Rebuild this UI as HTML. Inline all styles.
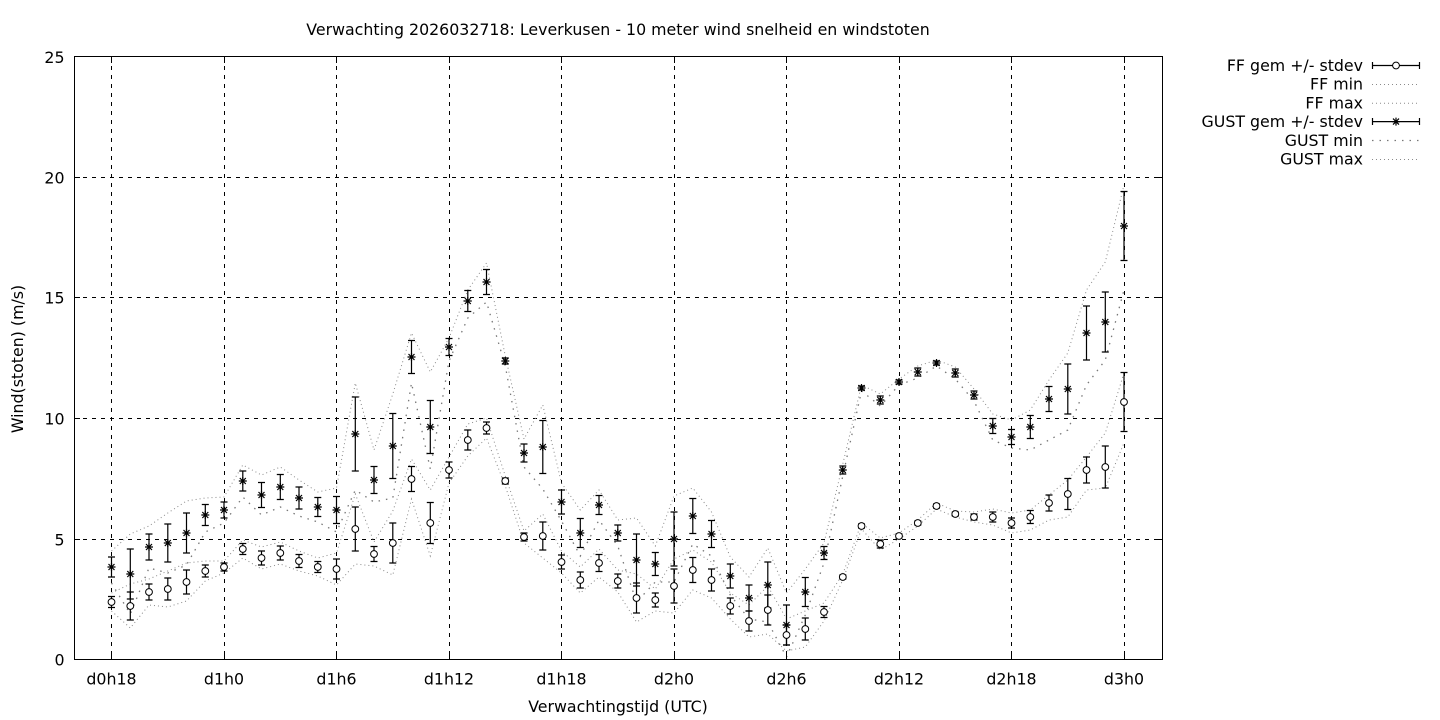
<!DOCTYPE html>
<html><head><meta charset="utf-8"><style>
html,body{margin:0;padding:0;background:#fff;}
svg{display:block;}
text{font-family:"DejaVu Sans","Liberation Sans",sans-serif;font-size:15.8px;fill:#000;}
</style></head><body>
<svg width="1440" height="720" viewBox="0 0 1440 720" xmlns="http://www.w3.org/2000/svg">
<defs>
<circle id="c" r="3.4" fill="#fff" stroke="#000" stroke-width="1"/>
<path id="s" d="M-4 0h8M0-4v8M-3-3l6 6M-3 3l6-6" stroke="#000" stroke-width="1.2" fill="none"/>
</defs>
<rect width="1440" height="720" fill="#fff"/>
<text x="618" y="35" text-anchor="middle">Verwachting 2026032718: Leverkusen - 10 meter wind snelheid en windstoten</text>

<!-- grid -->
<g stroke="#000" stroke-width="1" stroke-dasharray="4,5" fill="none">
<path d="M74 177.5H1162M74 297.5H1162M74 418.5H1162M74 539.5H1162"/>
<path d="M111.5 57V659M224.5 57V659M336.5 57V659M449.5 57V659M561.5 57V659M674.5 57V659M786.5 57V659M899.5 57V659M1011.5 57V659M1124.5 57V659"/>
</g>

<g transform="translate(0.5,0)">
<!-- envelopes -->
<g fill="none" stroke="#8a8a8a" stroke-width="1">
<polyline stroke-dasharray="1,3" points="111,551 129.8,534 148.5,526 167.3,513 186,501 204.8,498 223.5,497 242.3,465 261,475 279.8,467 298.5,480 317.3,492 336,488 354.8,383 373.5,450 392.3,394 411,333 429.8,372 448.5,338 467.3,290 486,263 504.8,356 523.5,439 542.3,405 561,483 579.8,510 598.5,490 617.3,520 636,518 654.8,546 673.5,496 692.3,488 711,512 729.8,557 748.5,577 767.3,548 786,593 804.8,569 823.5,543 842.3,464 861,385 879.8,394 898.5,379 917.3,366 936,360 954.8,367 973.5,389 992.3,414 1011,420 1029.8,410 1048.5,380 1067.3,353 1086,290 1104.8,262 1123.5,185"/>
<polyline stroke-dasharray="1.5,6" stroke-width="1.3" stroke="#777" points="111,583 129.8,614 148.5,568 167.3,573 186,565 204.8,532 223.5,523 242.3,497 261,515 279.8,507 298.5,516 317.3,522 336,532 354.8,490 373.5,502 392.3,498 411,383 429.8,469 448.5,361 467.3,318 486,302 504.8,366 523.5,467 542.3,489 561,521 579.8,556 598.5,520 617.3,546 636,602 654.8,582 673.5,582 692.3,544 711,556 729.8,595 748.5,619 767.3,622 786,657 804.8,615 823.5,563 842.3,476 861,391 879.8,406 898.5,385 917.3,378 936,366 954.8,379 973.5,401 992.3,440 1011,448 1029.8,450 1048.5,440 1067.3,430 1086,385 1104.8,360 1123.5,290"/>
<polyline stroke-dasharray="1,3" points="111,593 129.8,584 148.5,579 167.3,571 186,563 204.8,561 223.5,561 242.3,540 261,547 279.8,542 298.5,551 317.3,558 336,553 354.8,494 373.5,542 392.3,511 411,459 429.8,490 448.5,457 467.3,424 486,418 504.8,476 523.5,531 542.3,514 561,551 579.8,567 598.5,549 617.3,570 636,574 654.8,589 673.5,559 692.3,550 711,562 729.8,593 748.5,605 767.3,586 786,619 804.8,611 823.5,603 842.3,574 861,523 879.8,538 898.5,533 917.3,520 936,503 954.8,511 973.5,512 992.3,509 1011,513 1029.8,510 1048.5,495 1067.3,480 1086,457 1104.8,433 1123.5,373"/>
<polyline stroke-dasharray="1,3" points="111,611 129.8,628 148.5,605 167.3,607 186,601 204.8,581 223.5,573 242.3,558 261,569 279.8,564 298.5,571 317.3,576 336,585 354.8,564 373.5,566 392.3,575 411,499 429.8,556 448.5,483 467.3,456 486,438 504.8,486 523.5,543 542.3,558 561,573 579.8,593 598.5,577 617.3,592 636,622 654.8,611 673.5,613 692.3,590 711,598 729.8,619 748.5,637 767.3,634 786,651 804.8,647 823.5,621 842.3,580 861,529 879.8,550 898.5,539 917.3,526 936,509 954.8,517 973.5,522 992.3,525 1011,533 1029.8,530 1048.5,520 1067.3,517 1086,490 1104.8,488 1123.5,443"/>
</g>

<!-- error bars -->
<g fill="none" stroke="#000" stroke-width="1.2">
<path d="M111 557V577M107.5 557h7M107.5 577h7M129.8 549V599M126.3 549h7M126.3 599h7M148.5 534V560M145 534h7M145 560h7M167.3 524V562M163.8 524h7M163.8 562h7M186 513V553M182.5 513h7M182.5 553h7M204.8 504.5V525.5M201.3 504.5h7M201.3 525.5h7M223.5 502V518M220 502h7M220 518h7M242.3 471V491M238.8 471h7M238.8 491h7M261 482.5V507.5M257.5 482.5h7M257.5 507.5h7M279.8 474.5V499.5M276.3 474.5h7M276.3 499.5h7M298.5 487V509M295 487h7M295 509h7M317.3 497.5V516.5M313.8 497.5h7M313.8 516.5h7M336 496.5V523.5M332.5 496.5h7M332.5 523.5h7M354.8 397V471M351.3 397h7M351.3 471h7M373.5 466.5V493.5M370 466.5h7M370 493.5h7M392.3 413.5V478.5M388.8 413.5h7M388.8 478.5h7M411 340.5V373.5M407.5 340.5h7M407.5 373.5h7M429.8 400.5V453.5M426.3 400.5h7M426.3 453.5h7M448.5 338.5V355.5M445 338.5h7M445 355.5h7M467.3 290.5V311.5M463.8 290.5h7M463.8 311.5h7M486 269.5V294.5M482.5 269.5h7M482.5 294.5h7M504.8 358V364M501.3 358h7M501.3 364h7M523.5 444V462M520 444h7M520 462h7M542.3 420.5V473.5M538.8 420.5h7M538.8 473.5h7M561 490V514M557.5 490h7M557.5 514h7M579.8 518.5V547.5M576.3 518.5h7M576.3 547.5h7M598.5 495.5V514.5M595 495.5h7M595 514.5h7M617.3 525V541M613.8 525h7M613.8 541h7M636 534V586M632.5 534h7M632.5 586h7M654.8 552.5V575.5M651.3 552.5h7M651.3 575.5h7M673.5 512V566M670 512h7M670 566h7M692.3 498.5V533.5M688.8 498.5h7M688.8 533.5h7M711 520.5V547.5M707.5 520.5h7M707.5 547.5h7M729.8 564V588M726.3 564h7M726.3 588h7M748.5 585V611M745 585h7M745 611h7M767.3 562V608M763.8 562h7M763.8 608h7M786 605V645M782.5 605h7M782.5 645h7M804.8 577.5V606.5M801.3 577.5h7M801.3 606.5h7M823.5 546.5V559.5M820 546.5h7M820 559.5h7M842.3 466V474M838.8 466h7M838.8 474h7M861 386V390M857.5 386h7M857.5 390h7M879.8 396V404M876.3 396h7M876.3 404h7M898.5 380V384M895 380h7M895 384h7M917.3 368V376M913.8 368h7M913.8 376h7M936 361V365M932.5 361h7M932.5 365h7M954.8 369V377M951.3 369h7M951.3 377h7M973.5 391V399M970 391h7M970 399h7M992.3 418.5V433.5M988.8 418.5h7M988.8 433.5h7M1011 429.5V444.5M1007.5 429.5h7M1007.5 444.5h7M1029.8 415.5V438.5M1026.3 415.5h7M1026.3 438.5h7M1048.5 386.5V411.5M1045 386.5h7M1045 411.5h7M1067.3 364V414M1063.8 364h7M1063.8 414h7M1086 306V360M1082.5 306h7M1082.5 360h7M1104.8 292V352M1101.3 292h7M1101.3 352h7M1123.5 191.5V260.5M1120 191.5h7M1120 260.5h7"/>
<path d="M111 596.5V607.5M107.5 596.5h7M107.5 607.5h7M129.8 592V620M126.3 592h7M126.3 620h7M148.5 584V600M145 584h7M145 600h7M167.3 578V600M163.8 578h7M163.8 600h7M186 570V594M182.5 570h7M182.5 594h7M204.8 565V577M201.3 565h7M201.3 577h7M223.5 563V571M220 563h7M220 571h7M242.3 543.5V554.5M238.8 543.5h7M238.8 554.5h7M261 551V565M257.5 551h7M257.5 565h7M279.8 546V560M276.3 546h7M276.3 560h7M298.5 554.5V567.5M295 554.5h7M295 567.5h7M317.3 561.5V572.5M313.8 561.5h7M313.8 572.5h7M336 559V579M332.5 559h7M332.5 579h7M354.8 507V551M351.3 507h7M351.3 551h7M373.5 546.5V561.5M370 546.5h7M370 561.5h7M392.3 523V563M388.8 523h7M388.8 563h7M411 466.5V491.5M407.5 466.5h7M407.5 491.5h7M429.8 502.5V543.5M426.3 502.5h7M426.3 543.5h7M448.5 462V478M445 462h7M445 478h7M467.3 430V450M463.8 430h7M463.8 450h7M486 422V434M482.5 422h7M482.5 434h7M504.8 478V484M501.3 478h7M501.3 484h7M523.5 533V541M520 533h7M520 541h7M542.3 522V550M538.8 522h7M538.8 550h7M561 555V569M557.5 555h7M557.5 569h7M579.8 572V588M576.3 572h7M576.3 588h7M598.5 554.5V571.5M595 554.5h7M595 571.5h7M617.3 574V588M613.8 574h7M613.8 588h7M636 583V613M632.5 583h7M632.5 613h7M654.8 593V607M651.3 593h7M651.3 607h7M673.5 569V603M670 569h7M670 603h7M692.3 557.5V582.5M688.8 557.5h7M688.8 582.5h7M711 569V591M707.5 569h7M707.5 591h7M729.8 598V614M726.3 598h7M726.3 614h7M748.5 611V631M745 611h7M745 631h7M767.3 595V625M763.8 595h7M763.8 625h7M786 625V645M782.5 625h7M782.5 645h7M804.8 618V640M801.3 618h7M801.3 640h7M823.5 606.5V617.5M820 606.5h7M820 617.5h7M842.3 575V579M838.8 575h7M838.8 579h7M861 524V528M857.5 524h7M857.5 528h7M879.8 540V548M876.3 540h7M876.3 548h7M898.5 534V538M895 534h7M895 538h7M917.3 521V525M913.8 521h7M913.8 525h7M936 504V508M932.5 504h7M932.5 508h7M954.8 512V516M951.3 512h7M951.3 516h7M973.5 514V520M970 514h7M970 520h7M992.3 512V522M988.8 512h7M988.8 522h7M1011 518V528M1007.5 518h7M1007.5 528h7M1029.8 510.5V523.5M1026.3 510.5h7M1026.3 523.5h7M1048.5 495V511M1045 495h7M1045 511h7M1067.3 478.5V509.5M1063.8 478.5h7M1063.8 509.5h7M1086 457V483M1082.5 457h7M1082.5 483h7M1104.8 446V488M1101.3 446h7M1101.3 488h7M1123.5 372.5V431.5M1120 372.5h7M1120 431.5h7"/>
</g>

<!-- gust markers -->
<g>
<use href="#s" x="111" y="567"/><use href="#s" x="129.8" y="574"/><use href="#s" x="148.5" y="547"/><use href="#s" x="167.3" y="543"/><use href="#s" x="186" y="533"/><use href="#s" x="204.8" y="515"/><use href="#s" x="223.5" y="510"/><use href="#s" x="242.3" y="481"/><use href="#s" x="261" y="495"/><use href="#s" x="279.8" y="487"/><use href="#s" x="298.5" y="498"/><use href="#s" x="317.3" y="507"/><use href="#s" x="336" y="510"/><use href="#s" x="354.8" y="434"/><use href="#s" x="373.5" y="480"/><use href="#s" x="392.3" y="446"/><use href="#s" x="411" y="357"/><use href="#s" x="429.8" y="427"/><use href="#s" x="448.5" y="347"/><use href="#s" x="467.3" y="301"/><use href="#s" x="486" y="282"/><use href="#s" x="504.8" y="361"/><use href="#s" x="523.5" y="453"/><use href="#s" x="542.3" y="447"/><use href="#s" x="561" y="502"/><use href="#s" x="579.8" y="533"/><use href="#s" x="598.5" y="505"/><use href="#s" x="617.3" y="533"/><use href="#s" x="636" y="560"/><use href="#s" x="654.8" y="564"/><use href="#s" x="673.5" y="539"/><use href="#s" x="692.3" y="516"/><use href="#s" x="711" y="534"/><use href="#s" x="729.8" y="576"/><use href="#s" x="748.5" y="598"/><use href="#s" x="767.3" y="585"/><use href="#s" x="786" y="625"/><use href="#s" x="804.8" y="592"/><use href="#s" x="823.5" y="553"/><use href="#s" x="842.3" y="470"/><use href="#s" x="861" y="388"/><use href="#s" x="879.8" y="400"/><use href="#s" x="898.5" y="382"/><use href="#s" x="917.3" y="372"/><use href="#s" x="936" y="363"/><use href="#s" x="954.8" y="373"/><use href="#s" x="973.5" y="395"/><use href="#s" x="992.3" y="426"/><use href="#s" x="1011" y="437"/><use href="#s" x="1029.8" y="427"/><use href="#s" x="1048.5" y="399"/><use href="#s" x="1067.3" y="389"/><use href="#s" x="1086" y="333"/><use href="#s" x="1104.8" y="322"/><use href="#s" x="1123.5" y="226"/>
</g>
<!-- ff markers -->
<g>
<use href="#c" x="111" y="602"/><use href="#c" x="129.8" y="606"/><use href="#c" x="148.5" y="592"/><use href="#c" x="167.3" y="589"/><use href="#c" x="186" y="582"/><use href="#c" x="204.8" y="571"/><use href="#c" x="223.5" y="567"/><use href="#c" x="242.3" y="549"/><use href="#c" x="261" y="558"/><use href="#c" x="279.8" y="553"/><use href="#c" x="298.5" y="561"/><use href="#c" x="317.3" y="567"/><use href="#c" x="336" y="569"/><use href="#c" x="354.8" y="529"/><use href="#c" x="373.5" y="554"/><use href="#c" x="392.3" y="543"/><use href="#c" x="411" y="479"/><use href="#c" x="429.8" y="523"/><use href="#c" x="448.5" y="470"/><use href="#c" x="467.3" y="440"/><use href="#c" x="486" y="428"/><use href="#c" x="504.8" y="481"/><use href="#c" x="523.5" y="537"/><use href="#c" x="542.3" y="536"/><use href="#c" x="561" y="562"/><use href="#c" x="579.8" y="580"/><use href="#c" x="598.5" y="563"/><use href="#c" x="617.3" y="581"/><use href="#c" x="636" y="598"/><use href="#c" x="654.8" y="600"/><use href="#c" x="673.5" y="586"/><use href="#c" x="692.3" y="570"/><use href="#c" x="711" y="580"/><use href="#c" x="729.8" y="606"/><use href="#c" x="748.5" y="621"/><use href="#c" x="767.3" y="610"/><use href="#c" x="786" y="635"/><use href="#c" x="804.8" y="629"/><use href="#c" x="823.5" y="612"/><use href="#c" x="842.3" y="577"/><use href="#c" x="861" y="526"/><use href="#c" x="879.8" y="544"/><use href="#c" x="898.5" y="536"/><use href="#c" x="917.3" y="523"/><use href="#c" x="936" y="506"/><use href="#c" x="954.8" y="514"/><use href="#c" x="973.5" y="517"/><use href="#c" x="992.3" y="517"/><use href="#c" x="1011" y="523"/><use href="#c" x="1029.8" y="517"/><use href="#c" x="1048.5" y="503"/><use href="#c" x="1067.3" y="494"/><use href="#c" x="1086" y="470"/><use href="#c" x="1104.8" y="467"/><use href="#c" x="1123.5" y="402"/>
</g>
</g>

<!-- frame and ticks -->
<g fill="none" stroke="#000" stroke-width="1">
<rect x="74.5" y="56.5" width="1088" height="603"/>
<path d="M74 539.5h6M74 418.5h6M74 297.5h6M74 177.5h6M1162 539.5h-6M1162 418.5h-6M1162 297.5h-6M1162 177.5h-6"/>
<path d="M111.5 659v-6M224.5 659v-6M336.5 659v-6M449.5 659v-6M561.5 659v-6M674.5 659v-6M786.5 659v-6M899.5 659v-6M1011.5 659v-6M1124.5 659v-6M111.5 57v6M224.5 57v6M336.5 57v6M449.5 57v6M561.5 57v6M674.5 57v6M786.5 57v6M899.5 57v6M1011.5 57v6M1124.5 57v6"/>
</g>

<!-- y tick labels -->
<g text-anchor="end">
<text x="64.5" y="665.3">0</text>
<text x="64.5" y="545.3">5</text>
<text x="64.5" y="424.3">10</text>
<text x="64.5" y="303.3">15</text>
<text x="64.5" y="183.3">20</text>
<text x="64.5" y="62.8">25</text>
</g>
<!-- x tick labels -->
<g text-anchor="middle">
<text x="111.5" y="684.5">d0h18</text>
<text x="224" y="684.5">d1h0</text>
<text x="336.5" y="684.5">d1h6</text>
<text x="449" y="684.5">d1h12</text>
<text x="561.5" y="684.5">d1h18</text>
<text x="674" y="684.5">d2h0</text>
<text x="786.5" y="684.5">d2h6</text>
<text x="899" y="684.5">d2h12</text>
<text x="1011.5" y="684.5">d2h18</text>
<text x="1124" y="684.5">d3h0</text>
</g>
<text x="618" y="712" text-anchor="middle">Verwachtingstijd (UTC)</text>
<text transform="translate(23,359) rotate(-90)" text-anchor="middle">Wind(stoten) (m/s)</text>

<!-- legend -->
<g text-anchor="end">
<text x="1363" y="71">FF gem +/- stdev</text>
<text x="1363" y="89.7">FF min</text>
<text x="1363" y="108.4">FF max</text>
<text x="1363" y="127.1">GUST gem +/- stdev</text>
<text x="1363" y="145.8">GUST min</text>
<text x="1363" y="164.5">GUST max</text>
</g>
<g fill="none" stroke="#000" stroke-width="1.2">
<path d="M1372 65.5H1420M1372.5 62V69M1419.5 62V69"/>
<path d="M1372 121.6H1420M1372.5 118V125M1419.5 118V125"/>
</g>
<use href="#c" x="1396" y="65.5"/>
<use href="#s" x="1396" y="121.6"/>
<g fill="none" stroke="#8a8a8a" stroke-width="1">
<path stroke-dasharray="1,3" d="M1372 84.5H1420M1372 103.2H1420M1372 159.5H1420"/>
<path stroke-dasharray="1.5,6" stroke-width="1.3" stroke="#777" d="M1372 140.5H1420"/>
</g>
</svg>
</body></html>
